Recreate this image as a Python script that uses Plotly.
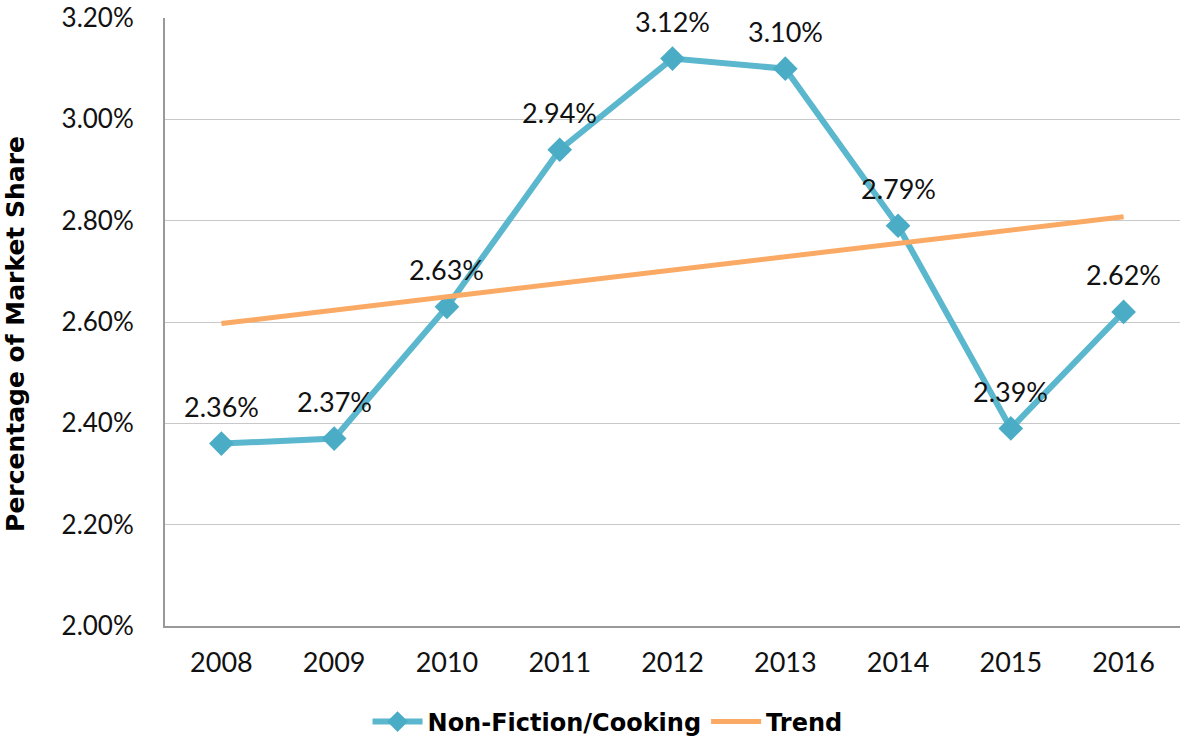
import plotly.graph_objects as go

years = [2008, 2009, 2010, 2011, 2012, 2013, 2014, 2015, 2016]
share = [2.36, 2.37, 2.63, 2.94, 3.12, 3.10, 2.79, 2.39, 2.62]
trend_years = [2008, 2016]
trend_share = [2.597, 2.808]
y_ticks = [2.0, 2.2, 2.4, 2.6, 2.8, 3.0, 3.2]

FONT = 'Lato'
BOLD = 'DejaVu Sans'
fig = go.Figure()

fig.add_trace(go.Scatter(x=years, y=share, name='Non-Fiction/Cooking', mode='lines+markers',
                         line=dict(color='#5BB7CD', width=6),
                         marker=dict(symbol='diamond', size=19, color='#4BACC6')))
fig.add_trace(go.Scatter(x=trend_years, y=trend_share, name='Trend', mode='lines',
                         line=dict(color='#FAAA64', width=5)))

# data labels above each point
for yr, v in zip(years, share):
    fig.add_annotation(x=yr, y=v, text=f'{v:.2f}%', showarrow=False, yshift=37,
                       font=dict(size=27, color='#111111', family=FONT))

# y axis title, placed further out than plotly's standoff allows
fig.add_annotation(text='Percentage of Market Share', xref='paper', yref='paper',
                   x=-0.148, y=0.48, xanchor='center', yanchor='middle', textangle=-90,
                   showarrow=False, font=dict(size=25, family=BOLD, weight='bold', color='#000000'))

fig.update_layout(width=1195, height=742, plot_bgcolor='white', paper_bgcolor='white',
                  margin=dict(l=165, r=15, t=18, b=116, autoexpand=False),
                  font=dict(family=FONT, size=27, color='#111111'),
                  legend=dict(orientation='h', x=0.436, xanchor='center', yref='container',
                              y=0.027, yanchor='middle',
                              font=dict(size=24, color='#000000', family=BOLD, weight='bold'),
                              itemwidth=50),
                  showlegend=True)
fig.update_xaxes(range=[2007.5, 2016.5], tickvals=years, showgrid=False, showline=True,
                 linecolor='#999999', linewidth=2, ticks='', ticklabelstandoff=12,
                 tickfont=dict(size=27), automargin=False, zeroline=False)
fig.update_yaxes(range=[2.0, 3.2001], tickvals=y_ticks, ticktext=[f'{v:.2f}%' for v in y_ticks],
                 showgrid=True, gridcolor='#C8C8C8', gridwidth=1, showline=True,
                 linecolor='#999999', linewidth=2, zeroline=False, ticklabelstandoff=24,
                 tickfont=dict(size=26), automargin=False, ticklabeloverflow='allow')

fig.write_html('out.html', config={'displayModeBar': False},
               post_script="document.body.style.margin='0';")
